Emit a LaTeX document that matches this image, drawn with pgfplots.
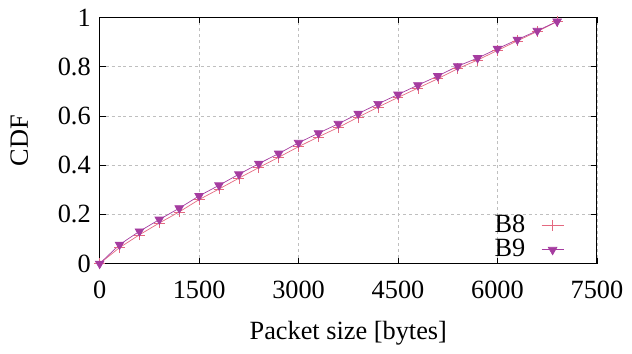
\documentclass[border=0pt]{standalone}
\usepackage{fontspec}
\setmainfont{Liberation Serif}
\usepackage{pgfplots}
\pgfplotsset{compat=1.18}
\definecolor{cB8}{RGB}{228,105,128}
\definecolor{cB9}{RGB}{165,60,160}
\begin{document}
\fontsize{26.5}{30}\selectfont
\begin{tikzpicture}
\begin{axis}[
  scale only axis,
  width=499bp, height=247bp,
  xmin=0, xmax=7500, ymin=0, ymax=1,
  xtick={0,1500,3000,4500,6000,7500},
  ytick={0,0.2,0.4,0.6,0.8,1},
  yticklabels={0,0.2,0.4,0.6,0.8,1},
  scaled x ticks=false,
  /pgf/number format/assume math mode=true,
  xticklabel style={/pgf/number format/1000 sep={}, yshift=-8bp},
  xmajorgrids, ymajorgrids,
  grid style={dashed, gray!50, line width=0.6pt},
  axis line style={line width=0.9pt},
  major tick length=6bp,
  tick style={black, line width=0.8pt},
  xlabel={Packet size [bytes]},
  ylabel={CDF},
  xlabel style={yshift=-5bp},
  ylabel style={yshift=12bp},
  legend plot pos=right,
  legend cell align=right,
  legend image code/.code={\draw[mark repeat=2,mark phase=2] plot coordinates {(0bp,0bp) (11bp,0bp) (22bp,0bp)};},
  legend style={draw=none, fill=none, inner sep=0pt, at={(0.934,0.012)}, anchor=south east, row sep=3bp,
    nodes={inner sep=0pt}, /tikz/every odd column/.style={column sep=16bp}},
]
\addplot[color=cB8, line width=0.7pt, mark=+, mark size=5.5bp, mark options={cB8, solid, line width=0.6pt}] coordinates {
(0,0) (300,0.065) (600,0.117) (900,0.165) (1200,0.21) (1500,0.26) (1800,0.303) (2100,0.347) (2400,0.39) (2700,0.432) (3000,0.475) (3300,0.515) (3600,0.553) (3900,0.595) (4200,0.636) (4500,0.675) (4800,0.713) (5100,0.751) (5400,0.792) (5700,0.827) (6000,0.866) (6300,0.905) (6600,0.943) (6900,0.983)
};
\addlegendentry{B8}
\addplot[color=cB9, line width=0.7pt, mark=triangle*, mark size=5bp, mark options={cB9, solid, rotate=180, fill=cB9}] coordinates {
(0,0) (300,0.077) (600,0.131) (900,0.179) (1200,0.225) (1500,0.275) (1800,0.318) (2100,0.363) (2400,0.406) (2700,0.447) (3000,0.491) (3300,0.530) (3600,0.568) (3900,0.609) (4200,0.649) (4500,0.687) (4800,0.725) (5100,0.762) (5400,0.802) (5700,0.835) (6000,0.873) (6300,0.910) (6600,0.946) (6900,0.984)
};
\addlegendentry{B9}
\end{axis}
\path (current axis.south west) ++(-100bp,-80bp) coordinate (bl);
\path (current axis.north east) ++(33bp,16bp) coordinate (tr);
\path (bl) rectangle (tr);
\end{tikzpicture}
\end{document}
